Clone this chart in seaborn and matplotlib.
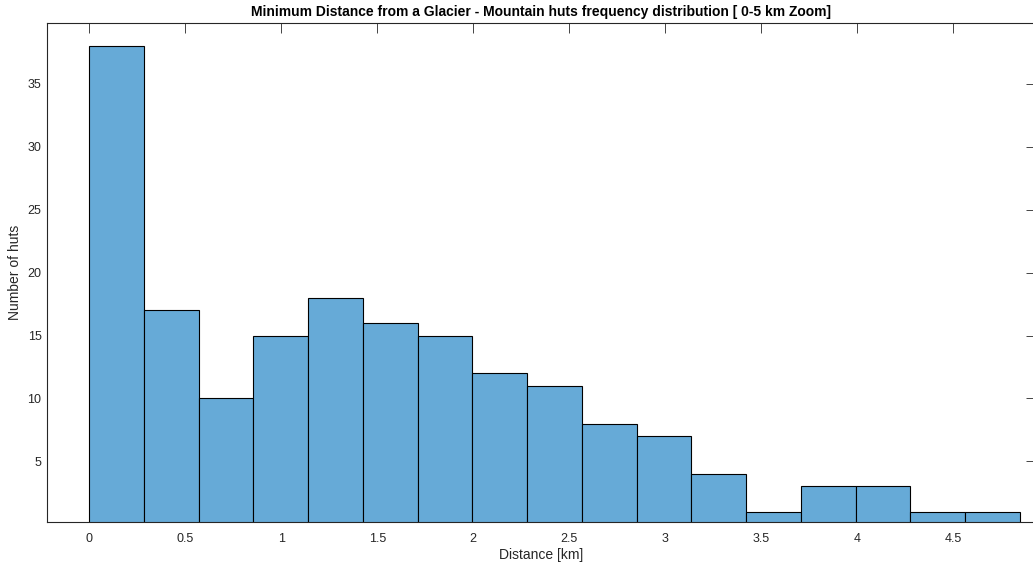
import numpy as np
import pandas as pd
import matplotlib
matplotlib.use("Agg")
import matplotlib.pyplot as plt
import seaborn as sns

# Histogram bins (km) and hut counts per bin
bin_width = 0.2851
n_bins = 17
counts = [38, 17, 10, 15, 18, 16, 15, 12, 11, 8, 7, 4, 1, 3, 3, 1, 1]
x_ticks = [0, 0.5, 1, 1.5, 2, 2.5, 3, 3.5, 4, 4.5]
x_tick_labels = ["0", "0.5", "1", "1.5", "2", "2.5", "3", "3.5", "4", "4.5"]
y_ticks = [5, 10, 15, 20, 25, 30, 35]

edges = np.arange(n_bins + 1) * bin_width
centers = (edges[:-1] + edges[1:]) / 2
df = pd.DataFrame({"distance": centers, "huts": counts})

sns.set_style("white")
plt.rcParams["font.family"] = ["Liberation Sans", "DejaVu Sans"]

fig = plt.figure(figsize=(10.33, 5.66), dpi=100)
ax = fig.add_axes([0.0455, 0.0777, 0.957, 0.8817])

sns.histplot(data=df, x="distance", weights="huts", bins=edges.tolist(),
             color="#66AAD7", alpha=1.0, edgecolor="black", linewidth=0.8,
             ax=ax)

ax.set_xlim(-0.22, 4.929)
ax.set_ylim(0.17, 39.85)
ax.set_xticks(x_ticks)
ax.set_xticklabels(x_tick_labels)
ax.set_yticks(y_ticks)

axis_col = "#262626"
for side in ["left", "right", "top", "bottom"]:
    ax.spines[side].set_visible(True)
    ax.spines[side].set_color(axis_col)
    ax.spines[side].set_linewidth(0.8)

ax.tick_params(axis="both", which="both", direction="in", length=7,
               width=0.6, color=axis_col, labelcolor=axis_col,
               labelsize=9, top=True, right=True)
ax.tick_params(axis="x", pad=8)
ax.tick_params(axis="y", pad=4)

ax.set_xlabel("Distance [km]", fontsize=10, color=axis_col, labelpad=2)
ax.set_ylabel("Number of huts", fontsize=10, color=axis_col, labelpad=4)
ax.set_title("Minimum Distance from a Glacier - Mountain huts frequency distribution [ 0-5 km Zoom]",
             fontsize=10, fontweight="bold", color="black", pad=5)

fig.savefig("out.png", dpi=100)
